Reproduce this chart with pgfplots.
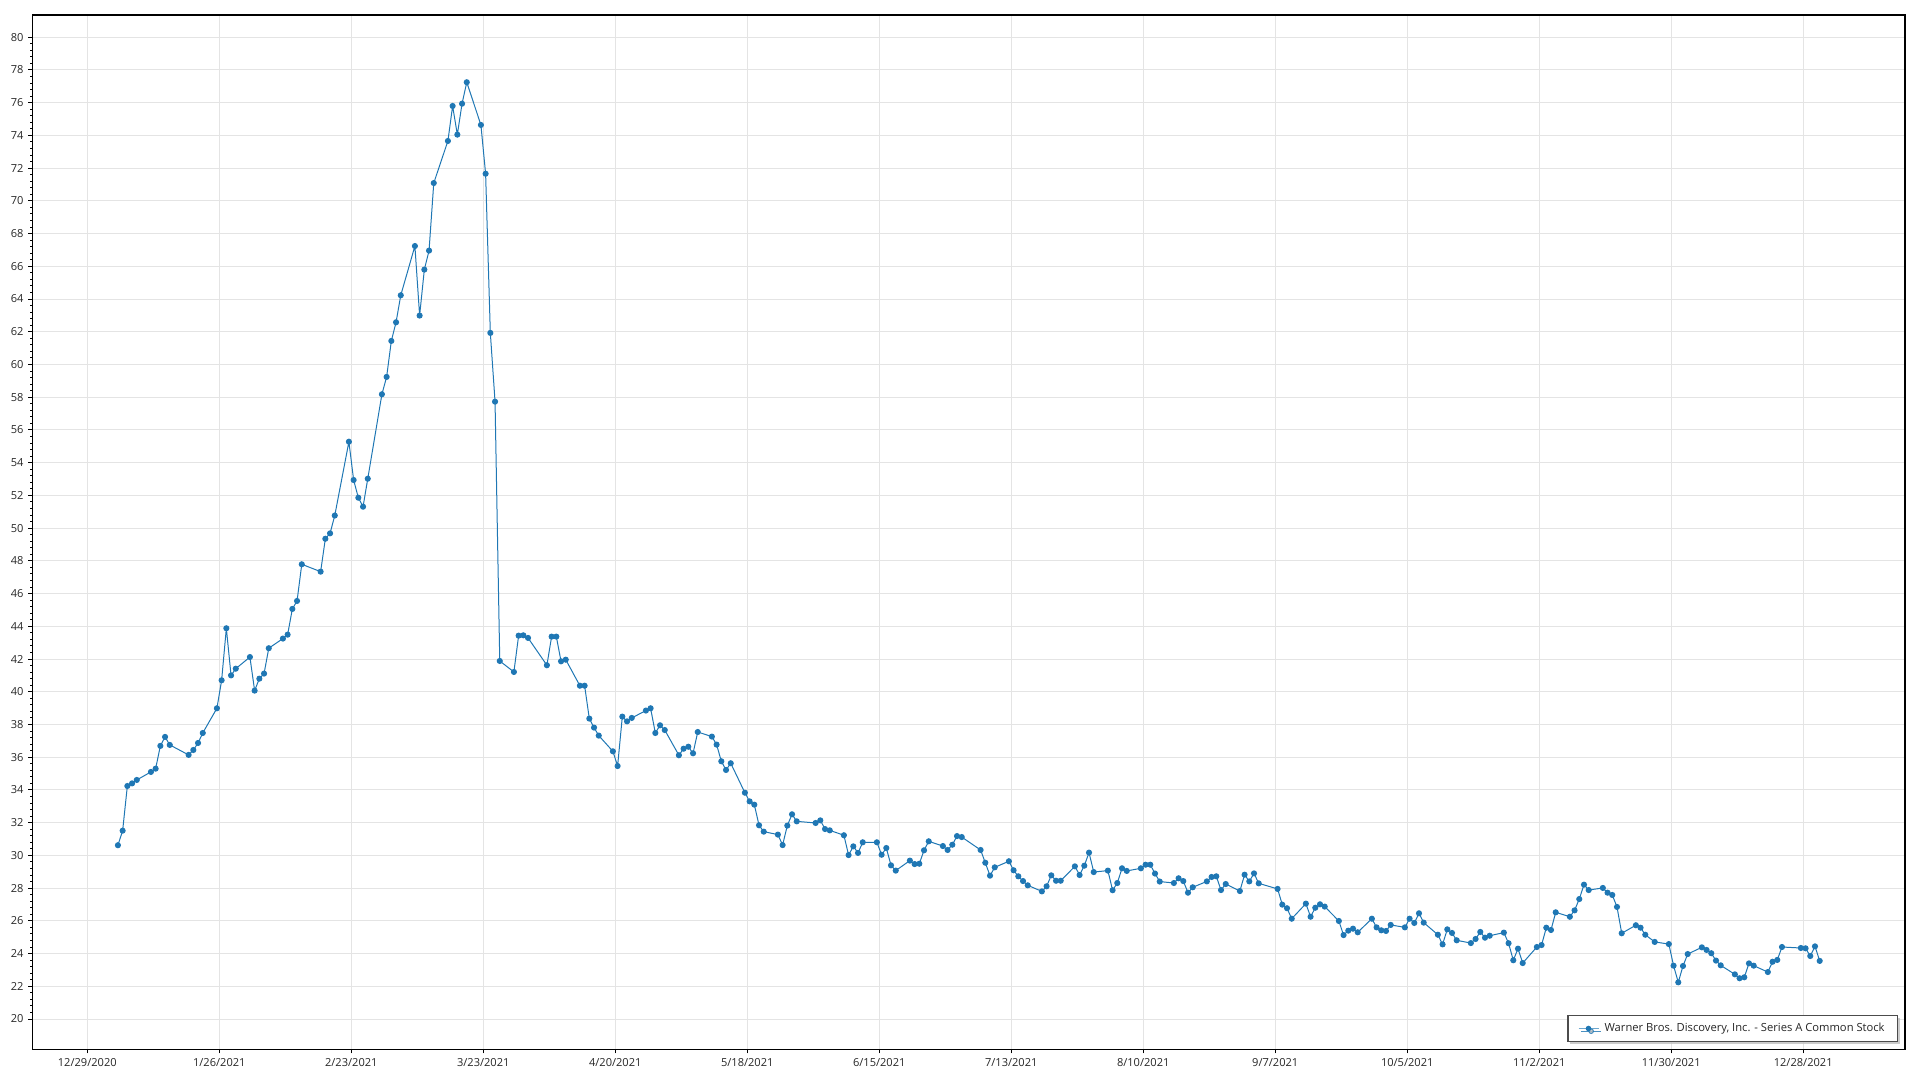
\documentclass[border=0pt]{standalone}
\usepackage{pgfplots}
\pgfplotsset{compat=1.18}
\usepackage{pgfplotstable}
\usepackage{fontspec}
\setmainfont{Open Sans}
\usetikzlibrary{shadows}
\definecolor{serie}{HTML}{1F77B4}
\definecolor{gridc}{HTML}{E4E4E4}
\definecolor{tickc}{HTML}{262626}
\pgfplotstableread{
d v
6 30.62
7 31.51
8 34.24
9 34.40
10 34.61
13 35.10
14 35.30
15 36.69
16 37.24
17 36.75
21 36.14
22 36.44
23 36.87
24 37.48
27 38.99
28 40.70
29 43.88
30 41.00
31 41.41
34 42.12
35 40.07
36 40.80
37 41.11
38 42.66
41 43.25
42 43.49
43 45.06
44 45.55
45 47.79
49 47.34
50 49.35
51 49.68
52 50.77
55 55.28
56 52.94
57 51.86
58 51.31
59 53.02
62 58.18
63 59.24
64 61.44
65 62.58
66 64.23
69 67.24
70 62.99
71 65.80
72 66.96
73 71.09
76 73.66
77 75.80
78 74.05
79 75.94
80 77.25
83 74.64
84 71.66
85 61.93
86 57.73
87 41.88
90 41.21
91 43.43
92 43.45
93 43.29
97 41.62
98 43.37
99 43.37
100 41.86
101 41.96
104 40.37
105 40.37
106 38.36
107 37.81
108 37.32
111 36.36
112 35.46
113 38.48
114 38.19
115 38.40
118 38.85
119 38.99
120 37.48
121 37.95
122 37.66
125 36.12
126 36.52
127 36.64
128 36.24
129 37.54
132 37.26
133 36.77
134 35.75
135 35.22
136 35.63
139 33.83
140 33.30
141 33.10
142 31.84
143 31.45
146 31.27
147 30.63
148 31.82
149 32.51
150 32.08
154 31.98
155 32.14
156 31.61
157 31.53
160 31.23
161 30.02
162 30.55
163 30.15
164 30.80
167 30.80
168 30.04
169 30.45
170 29.39
171 29.07
174 29.68
175 29.47
176 29.49
177 30.31
178 30.86
181 30.57
182 30.33
183 30.65
184 31.18
185 31.12
189 30.33
190 29.55
191 28.76
192 29.27
195 29.64
196 29.09
197 28.72
198 28.43
199 28.17
202 27.80
203 28.11
204 28.78
205 28.45
206 28.45
209 29.33
210 28.80
211 29.37
212 30.17
213 28.98
216 29.07
217 27.87
218 28.31
219 29.21
220 29.05
223 29.21
224 29.43
225 29.43
226 28.89
227 28.40
230 28.31
231 28.60
232 28.43
233 27.72
234 28.05
237 28.41
238 28.68
239 28.72
240 27.88
241 28.25
244 27.82
245 28.82
246 28.41
247 28.90
248 28.29
252 27.95
253 26.99
254 26.77
255 26.13
258 27.05
259 26.25
260 26.80
261 27.01
262 26.87
265 25.99
266 25.13
267 25.40
268 25.52
269 25.30
272 26.13
273 25.60
274 25.42
275 25.38
276 25.75
279 25.60
280 26.13
281 25.87
282 26.46
283 25.89
286 25.15
287 24.56
288 25.48
289 25.26
290 24.81
293 24.64
294 24.89
295 25.32
296 24.97
297 25.09
300 25.28
301 24.63
302 23.59
303 24.30
304 23.42
307 24.40
308 24.52
309 25.58
310 25.44
311 26.52
314 26.25
315 26.64
316 27.33
317 28.21
318 27.88
321 28.01
322 27.72
323 27.58
324 26.85
325 25.24
328 25.73
329 25.58
330 25.15
332 24.71
335 24.58
336 23.26
337 22.24
338 23.24
339 23.97
342 24.38
343 24.22
344 24.02
345 23.57
346 23.28
349 22.73
350 22.49
351 22.55
352 23.40
353 23.26
356 22.87
357 23.50
358 23.61
359 24.40
363 24.34
364 24.32
365 23.85
366 24.44
367 23.55
}\stock
\begin{document}
\begin{tikzpicture}
\begin{axis}[
  name=ax,
  scale only axis,
  width=1404.5pt, height=775.7pt,
  xmin=-11.67, xmax=385.6,
  ymin=18.15, ymax=81.36,
  xtick={0,28,...,364},
  xticklabels={12/29/2020,1/26/2021,2/23/2021,3/23/2021,4/20/2021,5/18/2021,6/15/2021,7/13/2021,8/10/2021,9/7/2021,10/5/2021,11/2/2021,11/30/2021,12/28/2021},
  ytick={20,22,...,80},
  minor y tick num=4,
  /pgf/number format/assume math mode=true,
  grid=major,
  major grid style={draw=gridc, line width=0.75pt},
  minor grid style={draw=none},
  tick align=outside,
  tick pos=left,
  xtick style={draw=black, line width=0.75pt},
  ytick style={draw=black, line width=0.75pt},
  major tick length=3pt,
  minor tick length=1.5pt,
  axis line style={draw=black, line width=0.9pt},
  tick label style={font=\fontsize{8.3pt}{10pt}\selectfont, text=tickc},
  xticklabel style={yshift=-0.5pt},
  legend style={
    at={(1,0)}, anchor=south east, xshift=-5.25pt, yshift=5.25pt,
    draw=black!70, line width=1.1pt, fill=white,
    drop shadow={shadow xshift=2pt, shadow yshift=-2pt, fill=black!25, opacity=0.8},
    font=\fontsize{8.4pt}{10pt}\selectfont, text=tickc,
    inner xsep=7.5pt, inner ysep=3.8pt,
    cells={anchor=west},
    /tikz/every odd column/.append style={column sep=2pt},
  },
  legend image code/.code={
    \draw[serie!65, line width=1.1pt] (0pt,0pt) -- (15pt,0pt);
    \fill[serie] (7.5pt,0pt) circle (1.7pt);
  },
]
\addplot[color=serie, line width=0.75pt, mark=*, mark size=1.9pt,
  mark options={solid, fill=serie, draw=serie}]
  table[x expr=\thisrow{d}+0.5, y=v] {\stock};
\addlegendentry{Warner Bros. Discovery, Inc. - Series A Common Stock}
\end{axis}
\path ([xshift=-24.2pt,yshift=-23.0pt]ax.south west) rectangle ([xshift=11.25pt,yshift=11.25pt]ax.north east);
\end{tikzpicture}
\end{document}
